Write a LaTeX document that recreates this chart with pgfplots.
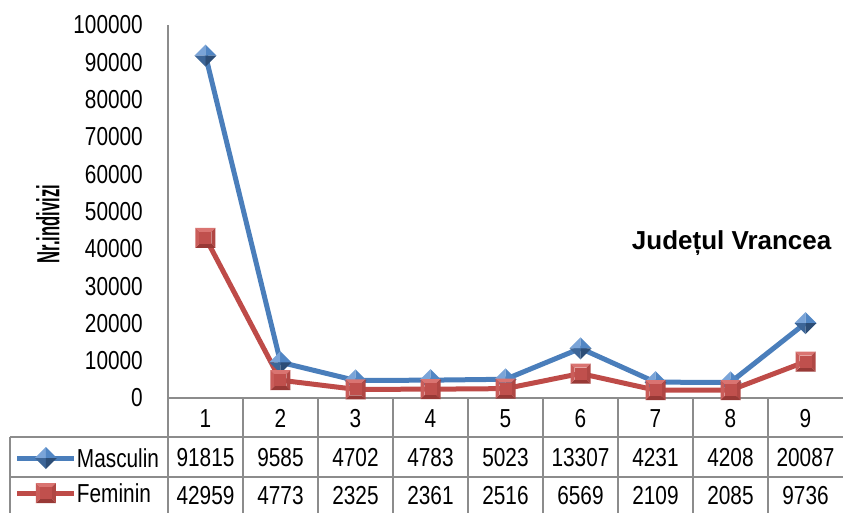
\documentclass[border=0pt]{standalone}
\usepackage{fontspec}
\setmainfont{Liberation Sans}[FakeStretch=0.8]
\newfontfamily\titlefont{Liberation Sans}
\newfontfamily\ylabfont{Liberation Sans Bold}[FakeStretch=0.52]
\usepackage{pgfplots}
\usepackage{pgfplotstable}
\pgfplotsset{compat=1.18}
\usetikzlibrary{calc}

\definecolor{mblue}{HTML}{4A7EBB}
\definecolor{mred}{HTML}{BE4B48}
\definecolor{tgray}{HTML}{8C8C8C}
\definecolor{dTL}{HTML}{7AA4D8}
\definecolor{dTR}{HTML}{5186C4}
\definecolor{dBL}{HTML}{3D6698}
\definecolor{dBR}{HTML}{2C4D76}
\definecolor{sT}{HTML}{DA7471}
\definecolor{sL}{HTML}{CA5D5A}
\definecolor{sR}{HTML}{B04744}
\definecolor{sB}{HTML}{983936}
\definecolor{sC}{HTML}{C0504D}

\newdimen\bevin
\pgfdeclareplotmark{bevdiamond}{%
  \pgfpathmoveto{\pgfqpoint{0pt}{\pgfplotmarksize}}%
  \pgfpathlineto{\pgfqpoint{-\pgfplotmarksize}{0pt}}%
  \pgfpathlineto{\pgfqpoint{0pt}{0pt}}\pgfpathclose
  \pgfsetfillcolor{dTL}\pgfusepath{fill}%
  \pgfpathmoveto{\pgfqpoint{0pt}{\pgfplotmarksize}}%
  \pgfpathlineto{\pgfqpoint{\pgfplotmarksize}{0pt}}%
  \pgfpathlineto{\pgfqpoint{0pt}{0pt}}\pgfpathclose
  \pgfsetfillcolor{dTR}\pgfusepath{fill}%
  \pgfpathmoveto{\pgfqpoint{0pt}{-\pgfplotmarksize}}%
  \pgfpathlineto{\pgfqpoint{-\pgfplotmarksize}{0pt}}%
  \pgfpathlineto{\pgfqpoint{0pt}{0pt}}\pgfpathclose
  \pgfsetfillcolor{dBL}\pgfusepath{fill}%
  \pgfpathmoveto{\pgfqpoint{0pt}{-\pgfplotmarksize}}%
  \pgfpathlineto{\pgfqpoint{\pgfplotmarksize}{0pt}}%
  \pgfpathlineto{\pgfqpoint{0pt}{0pt}}\pgfpathclose
  \pgfsetfillcolor{dBR}\pgfusepath{fill}%
}
\pgfdeclareplotmark{bevsquare}{%
  \bevin=0.6\pgfplotmarksize
  \pgfpathmoveto{\pgfqpoint{-\pgfplotmarksize}{\pgfplotmarksize}}%
  \pgfpathlineto{\pgfqpoint{\pgfplotmarksize}{\pgfplotmarksize}}%
  \pgfpathlineto{\pgfqpoint{\bevin}{\bevin}}%
  \pgfpathlineto{\pgfqpoint{-\bevin}{\bevin}}\pgfpathclose
  \pgfsetfillcolor{sT}\pgfusepath{fill}%
  \pgfpathmoveto{\pgfqpoint{\pgfplotmarksize}{\pgfplotmarksize}}%
  \pgfpathlineto{\pgfqpoint{\pgfplotmarksize}{-\pgfplotmarksize}}%
  \pgfpathlineto{\pgfqpoint{\bevin}{-\bevin}}%
  \pgfpathlineto{\pgfqpoint{\bevin}{\bevin}}\pgfpathclose
  \pgfsetfillcolor{sR}\pgfusepath{fill}%
  \pgfpathmoveto{\pgfqpoint{\pgfplotmarksize}{-\pgfplotmarksize}}%
  \pgfpathlineto{\pgfqpoint{-\pgfplotmarksize}{-\pgfplotmarksize}}%
  \pgfpathlineto{\pgfqpoint{-\bevin}{-\bevin}}%
  \pgfpathlineto{\pgfqpoint{\bevin}{-\bevin}}\pgfpathclose
  \pgfsetfillcolor{sB}\pgfusepath{fill}%
  \pgfpathmoveto{\pgfqpoint{-\pgfplotmarksize}{-\pgfplotmarksize}}%
  \pgfpathlineto{\pgfqpoint{-\pgfplotmarksize}{\pgfplotmarksize}}%
  \pgfpathlineto{\pgfqpoint{-\bevin}{\bevin}}%
  \pgfpathlineto{\pgfqpoint{-\bevin}{-\bevin}}\pgfpathclose
  \pgfsetfillcolor{sL}\pgfusepath{fill}%
  \pgfpathrectanglecorners{\pgfqpoint{-\bevin}{-\bevin}}{\pgfqpoint{\bevin}{\bevin}}%
  \pgfsetfillcolor{sC}\pgfusepath{fill}%
}

\pgfplotstableread{
x M F
1 91815 42959
2 9585 4773
3 4702 2325
4 4783 2361
5 5023 2516
6 13307 6569
7 4231 2109
8 4208 2085
9 20087 9736
}\data

\begin{document}
\begin{tikzpicture}
\begin{axis}[
  scale only axis, width=675pt, height=373pt,
  xmin=0.5, xmax=9.5, ymin=0, ymax=100000,
  axis lines*=left,
  axis line style={tgray, line width=2pt},
  xtick={1,2,...,9}, ytick={0,10000,...,100000},
  major tick length=0pt,
  scaled y ticks=false,
  /pgf/number format/assume math mode=true,
  /pgf/number format/fixed,
  /pgf/number format/1000 sep={},
  ticklabel style={font=\fontsize{26}{30}\selectfont},
  yticklabel style={anchor=east, inner sep=0pt, xshift=-25pt},
  xticklabel style={anchor=base, inner sep=0pt, yshift=-29.4pt},
  ylabel={Nr.indivizi},
  ylabel style={font=\ylabfont\fontsize{32}{34}\selectfont, at={(axis description cs:-0.178,0.466)}, anchor=center},
  clip=false,
  legend image code/.code={\draw[mark repeat=2, mark phase=2] plot coordinates {(0pt,0pt) (28.5pt,0pt) (57pt,0pt)};},
  legend style={at={(axis description cs:-0.2267,-0.1314)}, anchor=north west, draw=none, fill=none, inner sep=0pt, outer sep=0pt, row sep=14pt, column sep=0pt, font=\fontsize{26}{30}\selectfont, nodes={inner sep=0pt, text height=19pt, text depth=0pt}},
  legend cell align=left,
]
\coordinate (O) at (rel axis cs:0,0);
\coordinate (T) at (rel axis cs:1,1);
\addplot[mblue, line width=5pt, mark=bevdiamond, mark size=11pt] table[x=x, y=M] {\data};
\addlegendentry{Masculin}
\addplot[mred, line width=5pt, mark=bevsquare, mark size=10pt] table[x=x, y=F] {\data};
\addlegendentry{Feminin}

\addplot[forget plot, draw=none, mark=none, nodes near coords, point meta=explicit symbolic,
  every node near coord/.append style={anchor=base, inner sep=0pt, text=black, font=\fontsize{26}{30}\selectfont}]
  table[x=x, y expr=-18338, meta=M] {\data};
\addplot[forget plot, draw=none, mark=none, nodes near coords, point meta=explicit symbolic,
  every node near coord/.append style={anchor=base, inner sep=0pt, text=black, font=\fontsize{26}{30}\selectfont}]
  table[x=x, y expr=-28525, meta=F] {\data};

\draw[tgray, line width=2pt] (axis cs:-1.607,-10456) -- (axis cs:9.5,-10456);
\draw[tgray, line width=2pt] (axis cs:-1.607,-21180) -- (axis cs:9.5,-21180);
\draw[tgray, line width=2pt] (axis cs:-1.607,-10456) -- (axis cs:-1.607,-31500);
\pgfplotsinvokeforeach{0.5,1.5,2.5,3.5,4.5,5.5,6.5,7.5,8.5}{
  \draw[tgray, line width=2pt] (axis cs:#1,0) -- (axis cs:#1,-31500);
}
\node[font=\titlefont\bfseries\fontsize{26}{30}\selectfont] at (axis description cs:0.835,0.416) {Județul Vrancea};
\end{axis}
\pgfresetboundingbox
\path ($(O)+(-168pt,-114pt)$) rectangle ($(T)+(0pt,25pt)$);
\end{tikzpicture}
\end{document}
